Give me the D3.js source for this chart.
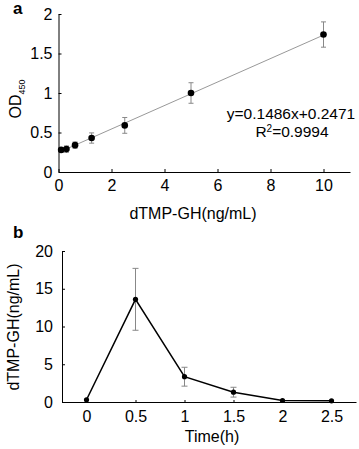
<!DOCTYPE html>
<html><head><meta charset="utf-8">
<script src="https://cdn.jsdelivr.net/npm/d3@7"></script>
<style>body{margin:0;background:#fff}text{font-family:"Liberation Sans",Arial,sans-serif;fill:#000}</style>
</head><body>
<svg id="c" width="359" height="449"></svg>
<script>
// Panel a: standard curve
const concA = [0.1, 0.3, 0.625, 1.25, 2.5, 5, 10];
const odA = [0.28, 0.29, 0.34, 0.43, 0.59, 1.0, 1.74];
const errA = [0.03, 0.04, 0.04, 0.065, 0.1, 0.13, 0.16];
const xTicksA = [0, 2, 4, 6, 8, 10];
const yTicksA = [0, 0.5, 1, 1.5, 2];
const fitSlope = 0.1486, fitIntercept = 0.2471;
// Panel b: time course
const timeB = [0, 0.5, 1, 1.5, 2, 2.5];
const concB = [0.3, 13.6, 3.35, 1.3, 0.2, 0.15];
const errB = [0, 4.1, 1.25, 0.65, 0, 0];
const xTicksB = [0, 0.5, 1, 1.5, 2, 2.5];
const yTicksB = [0, 5, 10, 15, 20];

const svg = d3.select("#c");
const fs = 16;

function styleAxis(a) {
  a.selectAll("text").attr("font-size", 16).attr("fill", "#000");
  a.select(".domain").attr("stroke", "#000");
  a.selectAll(".tick line").attr("stroke", "#000");
}

// ---------- Panel a ----------
const xa = d3.scaleLinear().domain([0, 11]).range([58.5, 350]);
const ya = d3.scaleLinear().domain([0, 2]).range([172, 14]);
const ga = svg.append("g");
const axA = ga.append("g").attr("transform", `translate(0,${ya(0)})`)
  .call(d3.axisBottom(xa).tickValues(xTicksA).tickSizeInner(-3).tickSizeOuter(0).tickPadding(8).tickFormat(d3.format("d")));
const ayA = ga.append("g").attr("transform", `translate(${xa(0)},0)`)
  .call(d3.axisLeft(ya).tickValues(yTicksA).tickSizeInner(-3).tickSizeOuter(0).tickPadding(6).tickFormat(d => String(d)));
styleAxis(axA); styleAxis(ayA);
// fit line
ga.append("line").attr("x1", xa(concA[0])).attr("y1", ya(fitSlope*concA[0]+fitIntercept))
  .attr("x2", xa(10)).attr("y2", ya(fitSlope*10+fitIntercept)).attr("stroke", "#999").attr("stroke-width", 1);
// error bars
concA.forEach((c, i) => {
  const g = ga.append("g").attr("stroke", "#888").attr("stroke-width", 1);
  g.append("line").attr("x1", xa(c)).attr("x2", xa(c)).attr("y1", ya(odA[i]-errA[i])).attr("y2", ya(odA[i]+errA[i]));
  [odA[i]-errA[i], odA[i]+errA[i]].forEach(v => g.append("line").attr("x1", xa(c)-2.5).attr("x2", xa(c)+2.5).attr("y1", ya(v)).attr("y2", ya(v)));
});
ga.selectAll("circle").data(concA).join("circle").attr("cx", d => xa(d)).attr("cy", (d,i) => ya(odA[i])).attr("r", 3.3).attr("fill", "#000");
ga.append("text").attr("x", 291).attr("y", 119).attr("text-anchor", "middle").attr("font-size", 15.5).text("y=0.1486x+0.2471");
const r2 = ga.append("text").attr("x", 292).attr("y", 137).attr("text-anchor", "middle").attr("font-size", 15.5);
r2.append("tspan").text("R");
r2.append("tspan").attr("font-size", 10).attr("dy", -5).text("2");
r2.append("tspan").attr("dy", 5).text("=0.9994");
ga.append("text").attr("x", 193).attr("y", 219).attr("text-anchor", "middle").attr("font-size", fs).text("dTMP-GH(ng/mL)");
const yl = ga.append("text").attr("transform", "translate(21,99) rotate(-90)").attr("text-anchor", "middle").attr("font-size", 16);
yl.append("tspan").text("OD");
yl.append("tspan").attr("font-size", 9).attr("dy", 4).text("450");
ga.append("text").attr("x", 13).attr("y", 14).attr("font-size", 17).attr("font-weight", "bold").text("a");

// ---------- Panel b ----------
const xb = d3.scaleLinear().domain([-0.25, 2.75]).range([62, 356]);
const yb = d3.scaleLinear().domain([0, 20]).range([402, 251]);
const gb = svg.append("g");
const axB = gb.append("g").attr("transform", `translate(0,${yb(0)})`)
  .call(d3.axisBottom(xb).tickValues(xTicksB).tickSizeInner(-2).tickSizeOuter(0).tickPadding(9).tickFormat(d => String(d)));
const ayB = gb.append("g").attr("transform", `translate(${xb(-0.25)},0)`)
  .call(d3.axisLeft(yb).tickValues(yTicksB).tickSizeInner(-3).tickSizeOuter(0).tickPadding(9).tickFormat(d3.format("d")));
styleAxis(axB); styleAxis(ayB);
timeB.forEach((t, i) => {
  if (!errB[i]) return;
  const g = gb.append("g").attr("stroke", "#888").attr("stroke-width", 1);
  g.append("line").attr("x1", xb(t)).attr("x2", xb(t)).attr("y1", yb(concB[i]-errB[i])).attr("y2", yb(concB[i]+errB[i]));
  [concB[i]-errB[i], concB[i]+errB[i]].forEach(v => g.append("line").attr("x1", xb(t)-3).attr("x2", xb(t)+3).attr("y1", yb(v)).attr("y2", yb(v)));
});
gb.append("path").datum(timeB).attr("fill", "none").attr("stroke", "#000").attr("stroke-width", 1.5)
  .attr("d", d3.line().x(d => xb(d)).y((d,i) => yb(concB[i])));
gb.selectAll("circle").data(timeB).join("circle").attr("cx", d => xb(d)).attr("cy", (d,i) => yb(concB[i])).attr("r", 2.6).attr("fill", "#000");
gb.append("text").attr("x", 212).attr("y", 442).attr("text-anchor", "middle").attr("font-size", fs).text("Time(h)");
gb.append("text").attr("transform", "translate(19,327) rotate(-90)").attr("text-anchor", "middle").attr("font-size", fs).text("dTMP-GH(ng/mL)");
gb.append("text").attr("x", 13).attr("y", 238).attr("font-size", 17).attr("font-weight", "bold").text("b");
</script>
</body></html>
